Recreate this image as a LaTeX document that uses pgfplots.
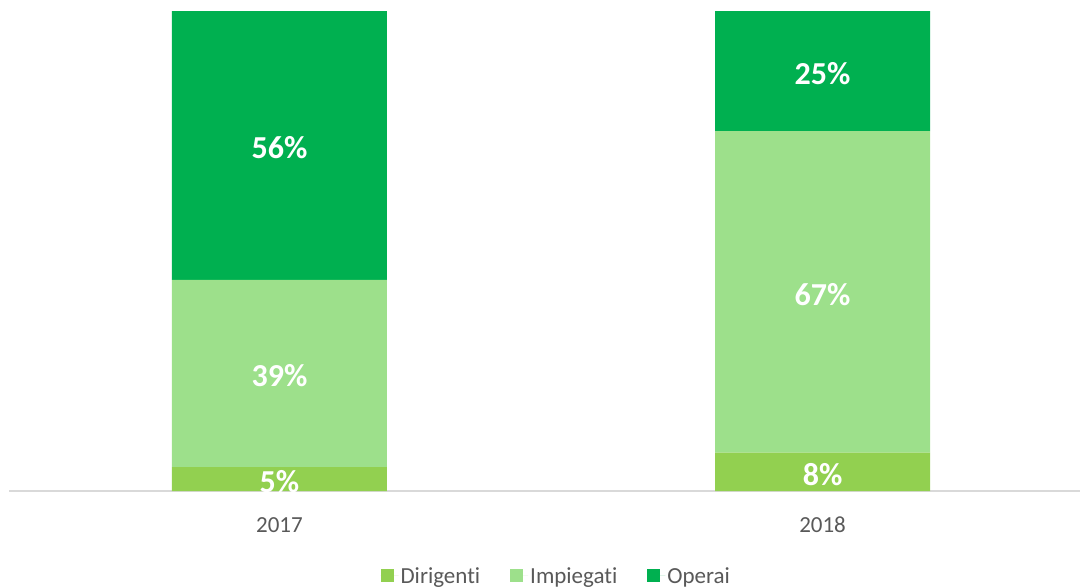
\documentclass[border=0pt]{standalone}
\usepackage{fontspec}
\setmainfont{Carlito}[Ligatures=NoCommon]
\usepackage{pgfplots}
\pgfplotsset{compat=1.18}
\definecolor{dirig}{RGB}{146,208,80}
\definecolor{impieg}{RGB}{157,224,139}
\definecolor{operai}{RGB}{0,176,80}
\definecolor{txtgray}{RGB}{89,89,89}
\begin{document}
\begin{tikzpicture}
\pgfplotsset{common/.style={
  scale only axis, width=1071bp, height=491bp,
  xmin=-0.498, xmax=1.474, ymin=0, ymax=102.3,
  at={(0,0)}, anchor=south west}}
\begin{axis}[
  common,
  ybar stacked,
  bar width=215bp,
  axis x line=bottom, axis y line=none,
  axis line style={-, draw=black!15, line width=1.5bp},
  xtick={0,1}, xticklabels={2017,2018},
  major tick length=0pt,
  xticklabel style={font=\fontsize{23bp}{27bp}\selectfont, text=txtgray, anchor=base, yshift=-41bp},
  legend columns=3,
  legend style={at={(0.511,-0.173)}, anchor=center, draw=none,
    font=\fontsize{23bp}{27bp}\selectfont, text=txtgray,
    /tikz/every even column/.append style={column sep=28bp}},
  legend image code/.code={\fill[#1] (0bp,-6.5bp) rectangle (13bp,6.5bp);
    \path (0bp,0bp) -- (18bp,0bp);},
]
\addplot[fill=dirig, draw=none] coordinates {(0,5) (1,8)};
\addlegendentry{Dirigenti}
\addplot[fill=impieg, draw=none] coordinates {(0,39) (1,67)};
\addlegendentry{Impiegati}
\addplot[fill=operai, draw=none] coordinates {(0,56) (1,25)};
\addlegendentry{Operai}
\end{axis}
\begin{axis}[
  common, hide axis,
  nodes near coords, point meta=explicit symbolic,
  every node near coord/.style={anchor=center, text=white, yshift=-2.5bp,
    font=\bfseries\fontsize{32bp}{36bp}\selectfont},
]
\addplot[draw=none, mark=none] coordinates {
  (0,2.5) [5\%] (0,24.5) [39\%] (0,72) [56\%]
  (1,4) [8\%] (1,41.5) [67\%] (1,87.5) [25\%]
};
\end{axis}
\pgfresetboundingbox
\path[use as bounding box] (-9bp,-96bp) rectangle (1071bp,491bp);
\end{tikzpicture}
\end{document}
